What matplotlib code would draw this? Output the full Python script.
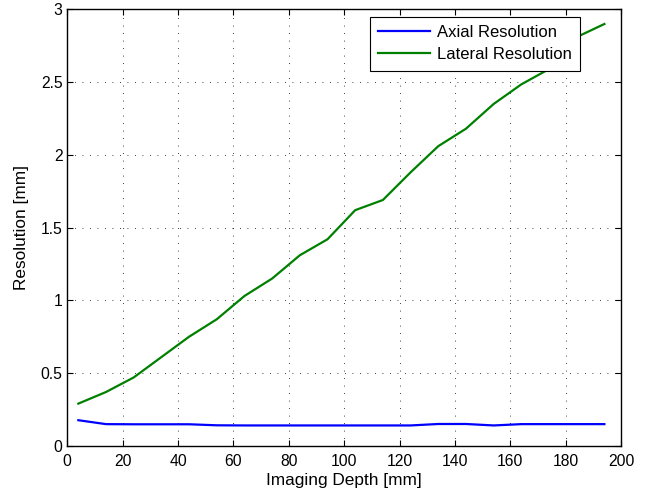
import matplotlib
matplotlib.use("Agg")
import matplotlib.pyplot as plt
from matplotlib.ticker import FuncFormatter

plt.rcParams['font.family'] = ['Liberation Sans', 'DejaVu Sans']

depth = [4, 14, 24, 34, 44, 54, 64, 74, 84, 94,
         104, 114, 124, 134, 144, 154, 164, 174, 184, 194]
axial = [0.176, 0.149, 0.148, 0.148, 0.148, 0.141, 0.140, 0.140, 0.140, 0.140,
         0.140, 0.140, 0.140, 0.150, 0.150, 0.140, 0.149, 0.149, 0.149, 0.149]
lateral = [0.29, 0.37, 0.47, 0.61, 0.75, 0.87, 1.03, 1.15, 1.31, 1.42,
           1.62, 1.69, 1.88, 2.06, 2.18, 2.35, 2.485, 2.59, 2.81, 2.90]

fig = plt.figure(figsize=(6.53, 4.97), dpi=100)
ax = fig.add_axes([0.103, 0.103, 0.848, 0.878])

ax.plot(depth, axial, color=(0, 0, 1), lw=1.6, label="Axial Resolution")
ax.plot(depth, lateral, color=(0, 0.5, 0), lw=1.6, label="Lateral Resolution")

ax.set_xlim(0, 200)
ax.set_ylim(0, 3)
ax.set_xticks(range(0, 201, 20))
ax.set_yticks([0, 0.5, 1, 1.5, 2, 2.5, 3])
ax.yaxis.set_major_formatter(FuncFormatter(lambda v, p: "%g" % v))

# matlab style dotted grid
ax.grid(True, color='black', linestyle=(0, (1, 8)), linewidth=0.6)
ax.tick_params(direction='in', top=True, right=True, labelsize=11.3, length=4)
ax.tick_params(axis='x', pad=6)
for s in ax.spines.values():
    s.set_linewidth(1.0)

ax.set_xlabel("Imaging Depth [mm]", fontsize=12.4, labelpad=3)
ax.set_ylabel("Resolution [mm]", fontsize=12.4, labelpad=8)

leg = ax.legend(loc='upper right', bbox_to_anchor=(0.926, 0.983), borderaxespad=0,
                fontsize=12, fancybox=False, framealpha=1, edgecolor='black',
                handlelength=3.1, handletextpad=0.42, borderpad=0.5, labelspacing=0.42)
leg.get_frame().set_linewidth(0.8)

fig.savefig("out.png", dpi=100)
